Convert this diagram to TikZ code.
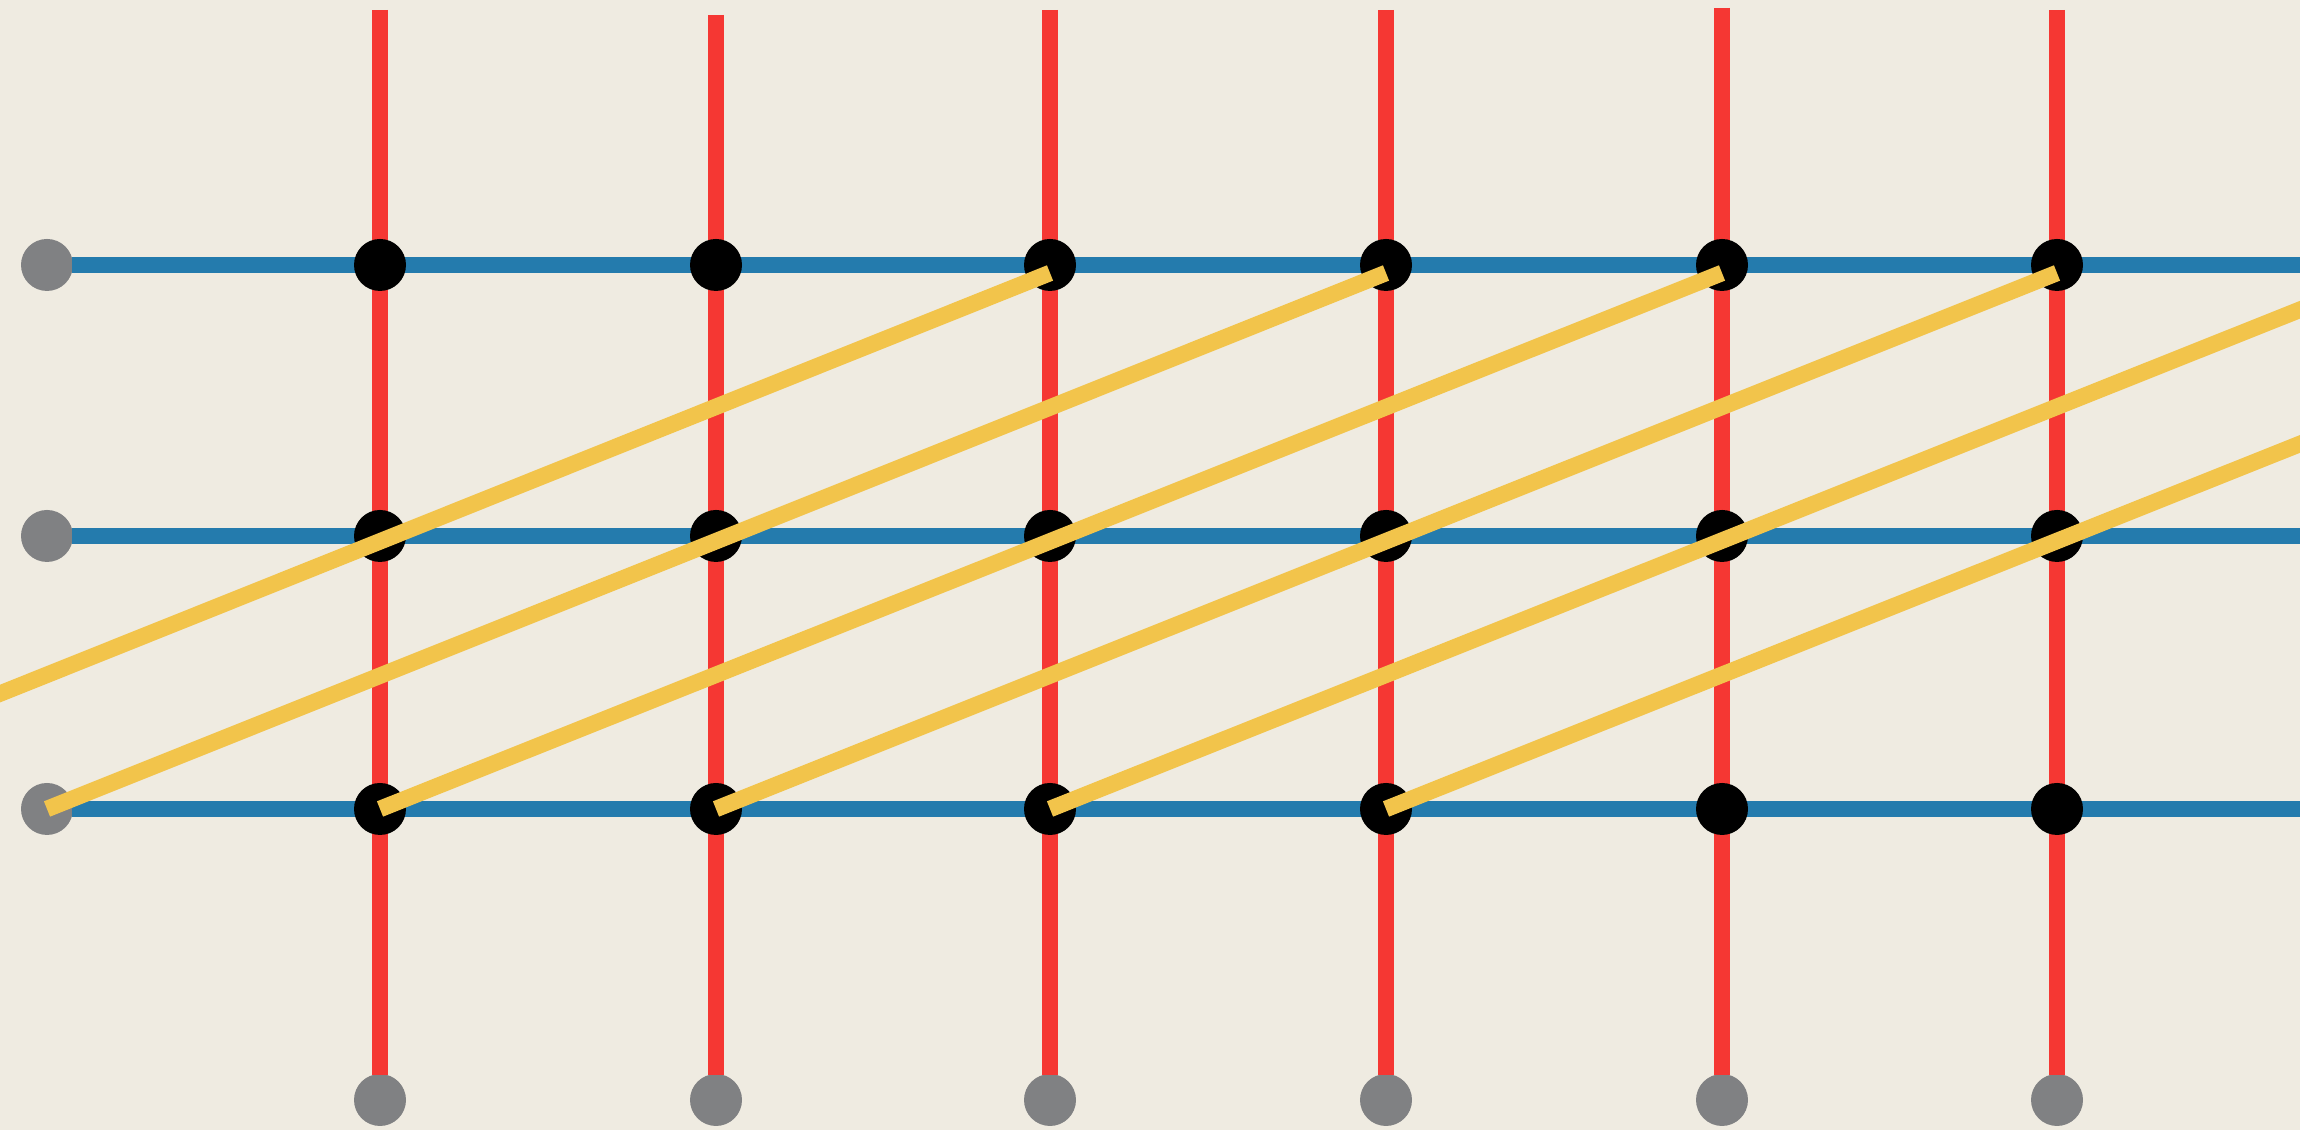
\documentclass[tikz,border=0pt]{standalone}
\definecolor{bgcol}{HTML}{EFEBE1}
\definecolor{redline}{HTML}{F53733}
\definecolor{blueline}{HTML}{247BAD}
\definecolor{yellowline}{HTML}{F2C44B}
\definecolor{greydot}{HTML}{808183}
\tikzset{
  vline/.style={draw=redline,line width=1.65mm,shorten >=-0.14mm},
  hline/.style={draw=blueline,line width=1.65mm,shorten <=-0.14mm},
  diag/.style={draw=yellowline,line width=1.65mm},
  enddot/.style={circle,fill=greydot,minimum size=5.2mm,inner sep=0pt,outer sep=0pt},
  crossdot/.style={circle,fill=black,minimum size=5.2mm,inner sep=0pt,outer sep=0pt},
}
\begin{document}
\begin{tikzpicture}
\useasboundingbox (0,0) rectangle (23,11.3);
\fill[bgcol] (0,0) rectangle (23,11.3);
\clip (0,0) rectangle (23,11.3);

% grey end points
\node[enddot] (g1) at (0.47,8.65) {};
\node[enddot] (g2) at (0.47,5.94) {};
\node[enddot] (g3) at (0.47,3.21) {};
\node[enddot] (b1) at (3.80,0.30) {};
\node[enddot] (b2) at (7.16,0.30) {};
\node[enddot] (b3) at (10.50,0.30) {};
\node[enddot] (b4) at (13.86,0.30) {};
\node[enddot] (b5) at (17.22,0.30) {};
\node[enddot] (b6) at (20.57,0.30) {};

% free ends
\coordinate (t1) at (3.80,11.20);
\coordinate (t2) at (7.16,11.15);
\coordinate (t3) at (10.50,11.20);
\coordinate (t4) at (13.86,11.20);
\coordinate (t5) at (17.22,11.22);
\coordinate (t6) at (20.57,11.20);
\coordinate (e1) at (23.1,8.65);
\coordinate (e2) at (23.1,5.94);
\coordinate (e3) at (23.1,3.21);

\draw[vline] (t1) -- (b1);
\draw[vline] (t2) -- (b2);
\draw[vline] (t3) -- (b3);
\draw[vline] (t4) -- (b4);
\draw[vline] (t5) -- (b5);
\draw[vline] (t6) -- (b6);

\draw[hline] (g1) -- (e1);
\draw[hline] (g2) -- (e2);
\draw[hline] (g3) -- (e3);

% crossings
\node[crossdot] (x11) at (3.80,8.65) {};
\node[crossdot] (x21) at (7.16,8.65) {};
\node[crossdot] (x31) at (10.50,8.65) {};
\node[crossdot] (x41) at (13.86,8.65) {};
\node[crossdot] (x51) at (17.22,8.65) {};
\node[crossdot] (x61) at (20.57,8.65) {};
\node[crossdot] (x12) at (3.80,5.94) {};
\node[crossdot] (x22) at (7.16,5.94) {};
\node[crossdot] (x32) at (10.50,5.94) {};
\node[crossdot] (x42) at (13.86,5.94) {};
\node[crossdot] (x52) at (17.22,5.94) {};
\node[crossdot] (x62) at (20.57,5.94) {};
\node[crossdot] (x13) at (3.80,3.21) {};
\node[crossdot] (x23) at (7.16,3.21) {};
\node[crossdot] (x33) at (10.50,3.21) {};
\node[crossdot] (x43) at (13.86,3.21) {};
\node[crossdot] (x53) at (17.22,3.21) {};
\node[crossdot] (x63) at (20.57,3.21) {};

% diagonals
\coordinate (ya) at (-2.88,3.21);
\coordinate (yb) at (23.92,8.57);
\coordinate (yc) at (27.28,8.57);
\draw[diag] (ya) -- ([yshift=-0.8mm]x31.center);
\draw[diag] (g3.center) -- ([yshift=-0.8mm]x41.center);
\draw[diag] (x13.center) -- ([yshift=-0.8mm]x51.center);
\draw[diag] (x23.center) -- ([yshift=-0.8mm]x61.center);
\draw[diag] (x33.center) -- (yb);
\draw[diag] (x43.center) -- (yc);
\end{tikzpicture}
\end{document}
